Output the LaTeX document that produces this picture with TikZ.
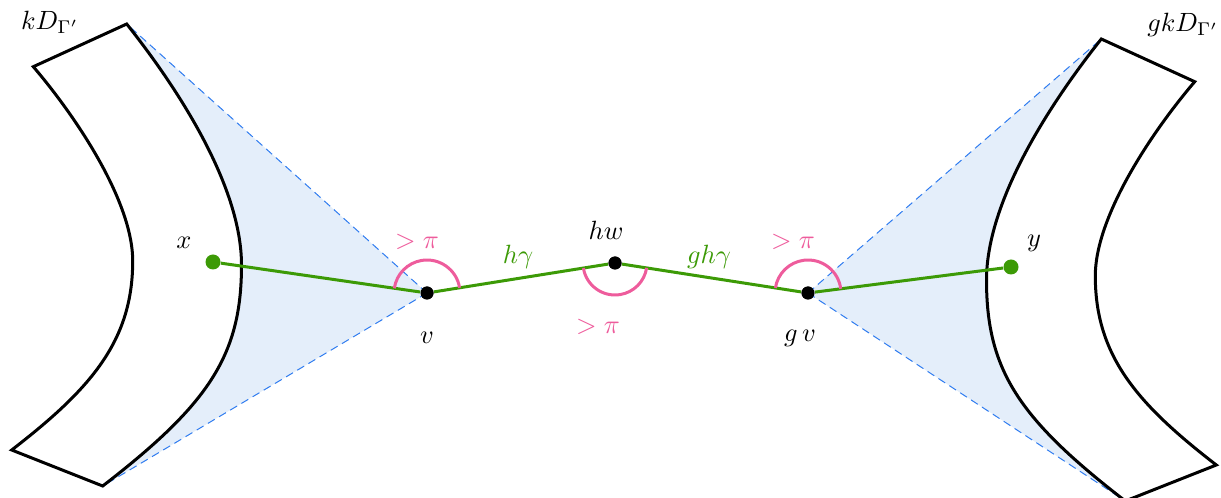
\documentclass[tikz,border=0pt]{standalone}
\usetikzlibrary{calc}
\definecolor{hullfill}{HTML}{E4EEFA}
\definecolor{dashblue}{HTML}{2F7CF0}
\definecolor{geo}{HTML}{3C9A06}
\definecolor{ang}{HTML}{EE5C9C}
% one fundamental domain, with the hull it spans with vertex #1
\newcommand\fdomain[2]{%
  \coordinate (#2-top) at (126.7,474);
  \coordinate (#2-bot) at (102.7,12);
  \coordinate (#2-itop) at (33.3,431.3);
  \coordinate (#2-ibot) at (11.7,48);
  \fill[hull] (#1.center) -- (#2-top)
     .. controls (176.3,411.6) and (241.5,313) .. (241.5,233)
     .. controls (241.5,143) and (209.4,94.4) .. (#2-bot) -- cycle;
  \draw[hulledge] (#1.center) -- (#2-top);
  \draw[hulledge] (#1.center) -- (#2-bot);
  \draw[outline] (#2-itop) -- (#2-top)
     .. controls (176.3,411.6) and (241.5,313) .. (241.5,233)
     .. controls (241.5,143) and (209.4,94.4) .. (#2-bot)
     -- (#2-ibot)
     .. controls (90.7,109) and (132.7,157) .. (132.7,237)
     .. controls (132.7,297) and (75.55,381.9) .. (#2-itop) -- cycle;
}
\begin{document}
\begin{tikzpicture}[x=0.5pt,y=0.5pt,
  outline/.style={draw=black, fill=white, line width=1.5pt, line join=miter},
  hull/.style={fill=hullfill, draw=none},
  hulledge/.style={draw=dashblue, dash pattern=on 4pt off 2.5pt, line width=0.5pt},
  geod/.style={draw=geo, line width=1.5pt},
  vert/.style={circle, fill=black, inner sep=0pt, minimum size=6.5pt},
  endpt/.style={circle, fill=geo, inner sep=0pt, minimum size=7.5pt},
  angarc/.style={draw=ang, line width=1.5pt},
  lbl/.style={inner sep=0pt, scale=1.32},
  anglbl/.style={lbl, text=ang},
  geolbl/.style={lbl, text=geo}]
\useasboundingbox (0,0) rectangle (1221,498);
% vertices
\node[endpt] (x) at (213,236) {};
\node[vert] (v) at (427,205) {};
\node[vert] (hw) at (615,235) {};
\node[vert] (gv) at (808,205) {};
\node[endpt] (y) at (1011,231) {};
% fundamental domains with shaded hulls
\fdomain{v}{L}
\begin{scope}[shift={(1228,-15)}, xscale=-1]
\fdomain{gv}{R}
\end{scope}
% geodesic pieces
\draw[geod] (x) -- (v) -- (hw) -- (gv) -- (y);
% angles
\draw[angarc] (v.center) ++(9.1:33) arc[start angle=9.1, end angle=171.8, radius=33];
\draw[angarc] (hw.center) ++(189.1:32) arc[start angle=189.1, end angle=351.2, radius=32];
\draw[angarc] (gv.center) ++(7.3:33) arc[start angle=7.3, end angle=171.2, radius=33];
% dots on top
\node[endpt] at (x) {};
\node[vert] at (v) {};
\node[vert] at (hw) {};
\node[vert] at (gv) {};
\node[endpt] at (y) {};
% labels
\node[lbl] (lk) at (50,476) {$kD_{\Gamma'}$};
\node[lbl] (lgk) at (1183,473) {$gkD_{\Gamma'}$};
\node[lbl] (lx) at (184,255) {$x$};
\node[lbl] (ly) at (1034,255) {$y$};
\node[lbl] (lv) at (427,160) {$v$};
\node[lbl] (lgv) at (800,160) {$g\,v$};
\node[lbl] (lhw) at (606,268) {$hw$};
\node[geolbl] (lhg) at (518,241) {$h\gamma$};
\node[geolbl] (lghg) at (709,241) {$gh\gamma$};
\node[anglbl] (a1) at (417,256) {$>\pi$};
\node[anglbl] (a2) at (598,171) {$>\pi$};
\node[anglbl] (a3) at (793,256) {$>\pi$};
\end{tikzpicture}
\end{document}
